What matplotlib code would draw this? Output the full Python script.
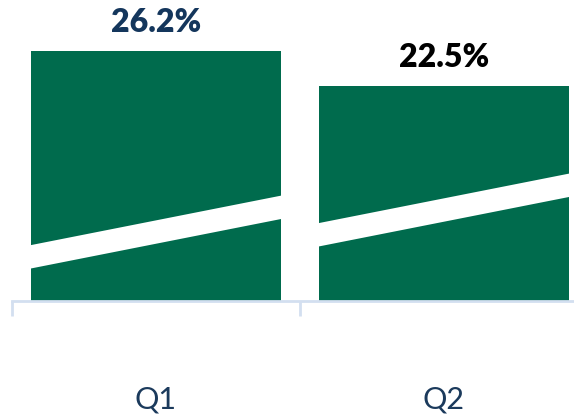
import matplotlib.pyplot as plt

# quarterly rates shown on the bars
quarters = ["Q1", "Q2"]
rates = [26.2, 22.5]
label_colors = ["#14365c", "#000000"]

BAR_GREEN = "#006b4d"
NAVY = "#1b3a5c"
AXIS_BLUE = "#d3dff0"

# white "axis break" band across each bar: lower edge at the bar's left side,
# how much it rises across the bar, and its thickness (all in data units)
break_base = [3.35, 5.66]
break_rise = 5.3
break_thick = 2.45

fig = plt.figure(figsize=(5.74, 4.16), dpi=100)
# axis spans slightly past the right edge of the figure
ax = fig.add_axes([12 / 574, 115 / 416, 576 / 574, 301 / 416])

width = 0.868
xs = list(range(len(quarters)))
bars = ax.bar(xs, rates, width=width, color=BAR_GREEN, zorder=2)

for x, base in zip(xs, break_base):
    x0, x1 = x - width / 2 - 0.01, x + width / 2 + 0.01
    ax.fill([x0, x1, x1, x0],
            [base, base + break_rise, base + break_rise + break_thick, base + break_thick],
            color="white", lw=0, zorder=3)

for bar, val, col in zip(bars, rates, label_colors):
    ax.annotate(f"{val:.1f}%", (bar.get_x() + bar.get_width() / 2, val),
                xytext=(0, 14), textcoords="offset points", ha="center", va="baseline",
                fontsize=23, fontweight="heavy", color=col, family="Lato")

ax.set_xlim(-0.5, 1.5)
ax.set_ylim(0, 301 / 9.542)

ax.set_xticks([-0.5, 0.5, 1.5])
ax.set_xticklabels([])
ax.tick_params(axis="x", length=11, width=2, color=AXIS_BLUE, direction="out")
ax.set_xticks(xs, minor=True)
ax.set_xticklabels(quarters, minor=True, fontsize=22, color=NAVY, family="Lato",
                   fontweight="normal")
ax.tick_params(axis="x", which="minor", length=0, pad=61)
ax.set_yticks([])

for side in ["top", "right", "left"]:
    ax.spines[side].set_visible(False)
ax.spines["bottom"].set_color(AXIS_BLUE)
ax.spines["bottom"].set_linewidth(2)

fig.savefig("out.png", dpi=100)
